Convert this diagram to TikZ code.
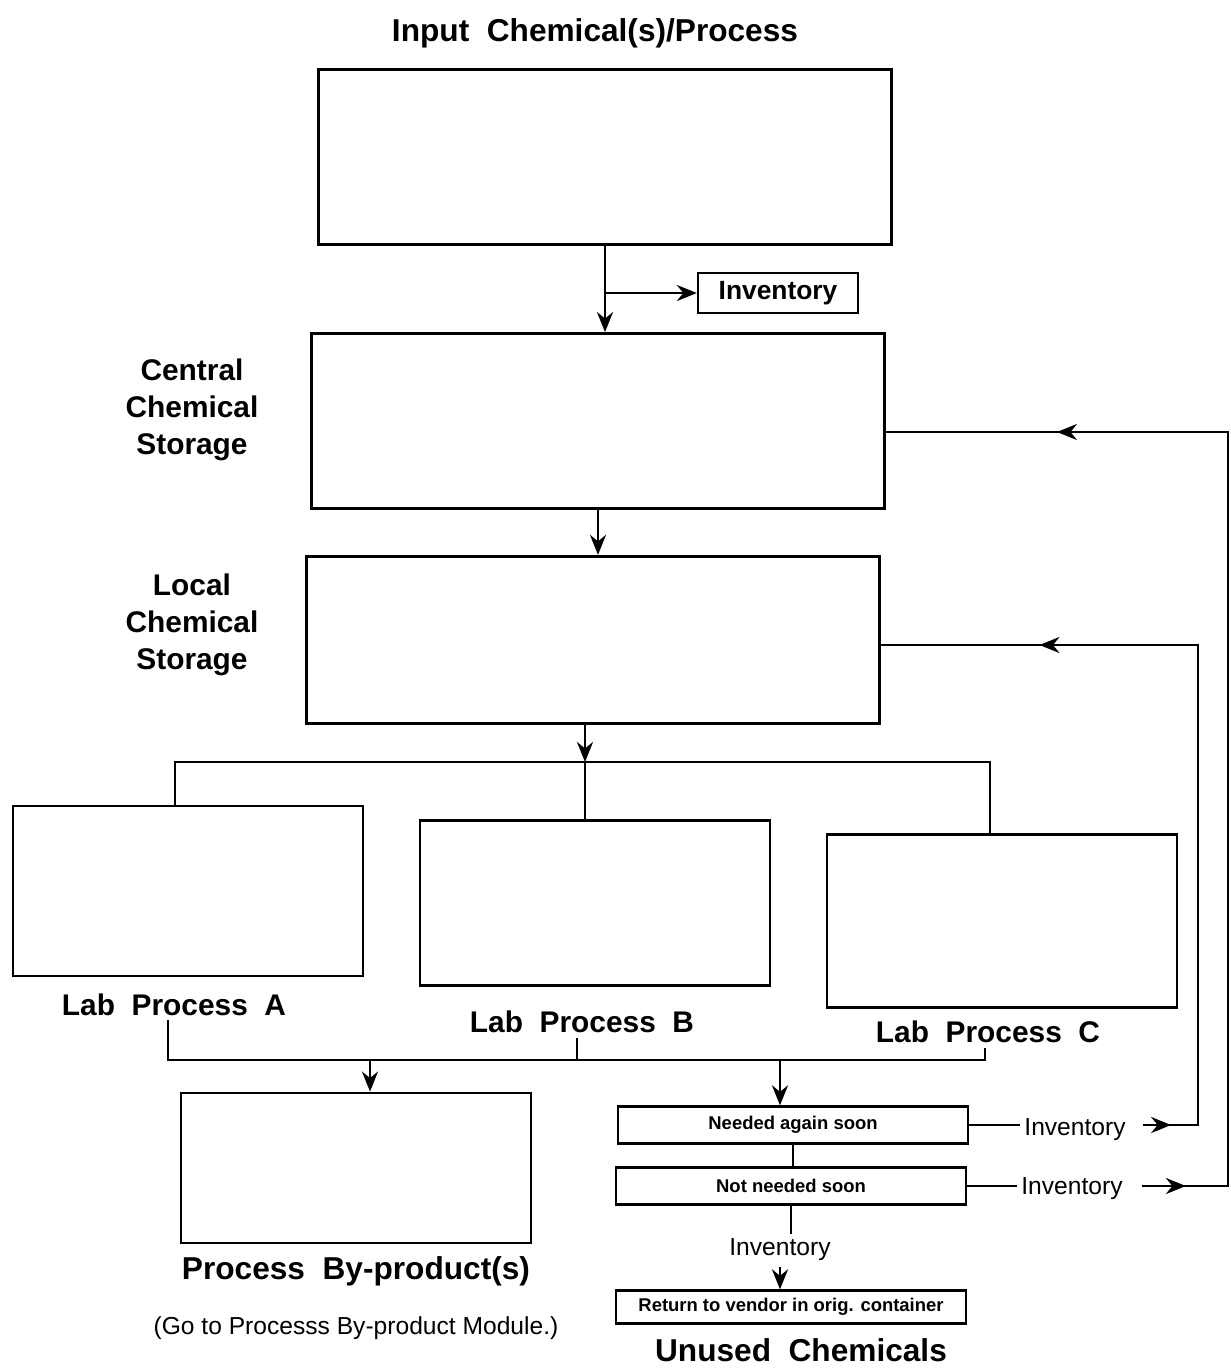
\documentclass[tikz,border=0pt]{standalone}
\usepackage{fontspec}
\setmainfont{Liberation Sans}
\usetikzlibrary{arrows.meta, positioning, decorations.markings}
\tikzset{
    box/.style={
        draw,
        line width=1.6pt,
        minimum width=11.46cm,
        minimum height=3.5cm
    },
    labbox/.style={
        draw,
        line width=1.6pt,
        minimum width=7.0cm,
        minimum height=3.4cm
    },
    smallbox/.style={
        draw,
        line width=1.3pt,
        minimum width=7.0cm,
        minimum height=0.74cm,
        inner sep=1pt,
        font=\fontsize{10.5}{12}\selectfont\bfseries
    },
    heading/.style={font=\fontsize{17}{21}\selectfont\bfseries, align=center},
    bigheading/.style={font=\fontsize{18}{22}\selectfont\bfseries, align=center},
    note/.style={font=\fontsize{14}{17}\selectfont},
    line/.style={-{Stealth[length=4mm, width=3.2mm]}, line width=1.6pt},
    plain/.style={line width=1.6pt, line cap=rect},
    midarrow/.style={
        line width=1.6pt,
        postaction=decorate,
        decoration={markings, mark=at position 0.5 with {\arrow{Stealth[length=4mm, width=3.2mm]}}}
    }
}
\begin{document}
\begin{tikzpicture}[x=0.2mm, y=-0.2mm]
\useasboundingbox (0,0) rectangle (1231,1371);

% storage column
\node[box] (input) at (605,157) {};
\node[bigheading] (inputlbl) at (595,33) {Input~~Chemical(s)/Process};
\node[smallbox, minimum width=3.2cm, minimum height=0.8cm, font=\fontsize{15}{18}\selectfont\bfseries] (inv) at (778,293) {Inventory};
\node[box] (central) at (598,421) {};
\node[heading] (centrallbl) at (192,410) {Central\\Chemical\\Storage};
\node[box, minimum height=3.35cm] (local) at (593,640) {};
\node[heading] (locallbl) at (192,625) {Local\\Chemical\\Storage};

\draw[line] (input.south) -- (input.south |- central.north);
\draw[line] (input.south |- inv.west) -- (inv.west);
\draw[line] (central.south) -- (central.south |- local.north);

% lab processes
\node[labbox] (labA) at (188,891) {};
\node[labbox, minimum height=3.3cm] (labB) at (595,903) {};
\node[labbox, minimum height=3.45cm] (labC) at (1002,921) {};
\node[heading, below=0.2cm of labA, xshift=-0.28cm] (labAlbl) {Lab~~Process~~A};
\node[heading, below=0.36cm of labB, xshift=-0.26cm] (labBlbl) {Lab~~Process~~B};
\node[heading, below=0.12cm of labC, xshift=-0.28cm] (labClbl) {Lab~~Process~~C};

\coordinate (split) at (585,762);
\coordinate (barL) at (175,762);
\coordinate (barR) at (990,762);
\draw[line] (local.south -| split) -- (split);
\draw[plain] (labA.north -| barL) -- (barL) -- (barR) -- (labC.north -| barR);
\draw[plain] (split) -- (labB.north -| split);

% collecting line
\coordinate (colL) at (168,1060);
\coordinate (colB) at (577,1060);
\coordinate (colR) at (985,1060);
\coordinate (toByp) at (370,1060);
\coordinate (toUnused) at (780,1060);
\draw[plain] (labAlbl.south -| colL) -- (colL) -- (colR) -- (labClbl.south -| colR);
\draw[plain] (labBlbl.south -| colB) -- (colB);

% by-products
\node[labbox, minimum height=3.0cm] (byprod) at (356,1168) {};
\node[bigheading, below=0.12cm of byprod] (byprodlbl) {Process~~By-product(s)};
\node[note, below=0.36cm of byprodlbl] (bypnote) {(Go to Processs By-product Module.)};
\draw[line] (toByp) -- (toByp |- byprod.north);

% unused chemicals
\node[smallbox] (needed) at (793,1125) {Needed again soon};
\node[smallbox] (notneeded) at (791,1186) {Not needed soon};
\node[note] (invA) at (1075,1130) {Inventory};
\node[note] (invB) at (1072,1189) {Inventory};
\node[note] (invC) at (780,1250) {Inventory};
\node[smallbox, minimum height=0.66cm] (vendor) at (791,1307) {Return to vendor in orig. container};
\node[bigheading] (unusedlbl) at (801,1350) {Unused~~Chemicals};

\draw[line] (toUnused) -- (toUnused |- needed.north);
\draw[plain] (needed.south) -- (needed.south |- notneeded.north);
\draw[plain] (notneeded.south) -- (notneeded.south |- invC.north);
\draw[line] (invC.south) -- (invC.south |- vendor.north);

% return loops
\coordinate (loopL) at (1198,645);
\coordinate (loopC) at (1228,432);
\draw[plain] (needed.east) -- (needed.east -| invA.west);
\draw[plain] (notneeded.east) -- (notneeded.east -| invB.west);
\draw[plain] ([xshift=0.25cm]invA.east |- needed.east) -- (needed.east -| loopL) -- (loopL) -- (local.east |- loopL);
\draw[plain] ([xshift=0.3cm]invB.east |- notneeded.east) -- (notneeded.east -| loopC) -- (loopC) -- (central.east |- loopC);
\draw[midarrow] ([xshift=0.25cm]invA.east |- needed.east) -- (needed.east -| loopL);
\draw[midarrow] ([xshift=0.3cm]invB.east |- notneeded.east) -- (notneeded.east -| loopC);
\draw[midarrow] (loopL) -- (local.east |- loopL);
\draw[midarrow] (loopC) -- (central.east |- loopC);
\end{tikzpicture}
\end{document}
